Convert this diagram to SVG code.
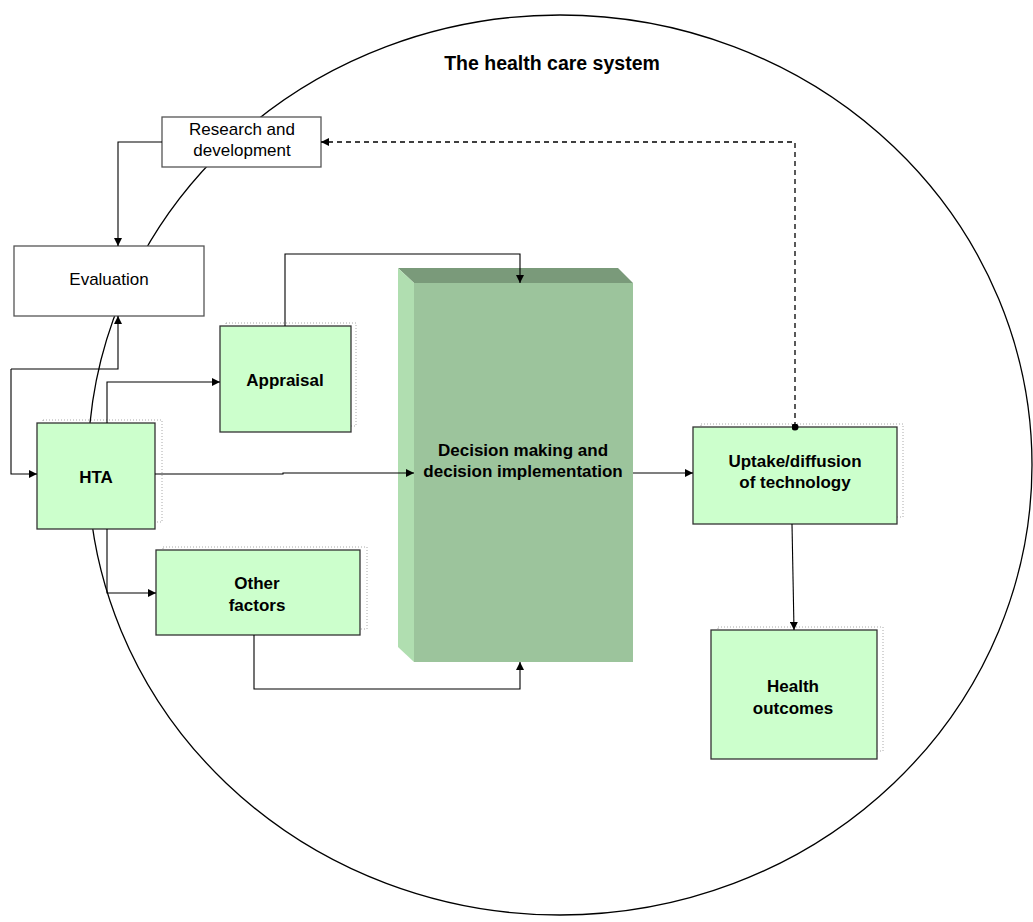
<svg xmlns="http://www.w3.org/2000/svg" width="1033" height="922" viewBox="0 0 1033 922">
<style>
  text { font-family: "Liberation Sans", Arial, sans-serif; font-size: 17px; fill: #000; text-anchor: middle; }
  .b { font-weight: bold; }
  .title { font-size: 19.5px; }
  .box { fill: #CCFFCC; stroke: #333; stroke-width: 1.3; }
  .wbox { fill: #fff; stroke: #555; stroke-width: 1.3; }
  .shadow { fill: none; stroke: #aaa; stroke-width: 1; stroke-dasharray: 1 2; }
  .conn { fill: none; stroke: #000; stroke-width: 1.1; }
  .dash { fill: none; stroke: #000; stroke-width: 1.3; stroke-dasharray: 5 4; }
</style>
<defs>
  <marker id="arr" viewBox="0 0 10 10" refX="10" refY="5" markerWidth="8" markerHeight="8" markerUnits="userSpaceOnUse" orient="auto">
    <path d="M0,0 L10,5 L0,10 z" fill="#000"/>
  </marker>
  <marker id="dot" viewBox="0 0 10 10" refX="5" refY="5" markerWidth="7" markerHeight="7" markerUnits="userSpaceOnUse">
    <circle cx="5" cy="5" r="5" fill="#000"/>
  </marker>
</defs>
<rect width="1033" height="922" fill="#fff"/>

<g id="system">
  <ellipse cx="560" cy="465" rx="472" ry="450" fill="none" stroke="#000" stroke-width="1.3"/>
  <text class="b title" x="552" y="70">The health care system</text>
</g>

<g id="rd">
  <rect class="wbox" x="162" y="117" width="159" height="50"/>
  <text x="242" y="135">Research and</text>
  <text x="242" y="156">development</text>
</g>

<g id="evaluation">
  <rect class="wbox" x="14" y="246" width="190" height="70"/>
  <text x="109" y="285">Evaluation</text>
</g>

<g id="appraisal">
  <rect class="shadow" x="226" y="323" width="130" height="103"/>
  <rect class="box" x="220" y="326" width="131" height="106"/>
  <text class="b" x="285" y="386">Appraisal</text>
</g>

<g id="hta">
  <rect class="shadow" x="43" y="420" width="119" height="102"/>
  <rect class="box" x="37" y="423" width="118" height="106"/>
  <text class="b" x="96" y="483">HTA</text>
</g>

<g id="other">
  <rect class="shadow" x="163" y="547" width="204" height="82"/>
  <rect class="box" x="156" y="550" width="204" height="85"/>
  <text class="b" x="257" y="589">Other</text>
  <text class="b" x="257" y="611">factors</text>
</g>

<g id="decision">
  <polygon points="398,268 618,268 633,283 414,283" fill="#7A9A7A"/>
  <polygon points="398,268 414,283 414,662 398,647" fill="#B0DEB0"/>
  <rect x="414" y="283" width="219" height="379" fill="#9CC49C"/>
  <text class="b" x="523" y="456">Decision making and</text>
  <text class="b" x="523" y="477">decision implementation</text>
</g>

<g id="uptake">
  <rect class="shadow" x="701" y="424" width="202" height="93"/>
  <rect class="box" x="693" y="427" width="204" height="97"/>
  <text class="b" x="795" y="467">Uptake/diffusion</text>
  <text class="b" x="795" y="488">of technology</text>
</g>

<g id="health">
  <rect class="shadow" x="718" y="627" width="165" height="124"/>
  <rect class="box" x="711" y="630" width="166" height="129"/>
  <text class="b" x="793" y="692">Health</text>
  <text class="b" x="793" y="714">outcomes</text>
</g>

<g id="connectors">
  <path class="conn" d="M162,142 H118 V246" marker-end="url(#arr)"/>
  <path class="conn" d="M11,369 H118 V316" marker-end="url(#arr)"/>
  <path class="conn" d="M11,369 V474 H37" marker-end="url(#arr)"/>
  <path class="conn" d="M107,423 V382 H220" marker-end="url(#arr)"/>
  <path class="conn" d="M155,474 H283 V473 H414" marker-end="url(#arr)"/>
  <path class="conn" d="M107,529 V593 H156" marker-end="url(#arr)"/>
  <path class="conn" d="M254,635 V689 H520 V662" marker-end="url(#arr)"/>
  <path class="conn" d="M285,326 V254 H520 V283" marker-end="url(#arr)"/>
  <path class="conn" d="M633,473 H693" marker-end="url(#arr)"/>
  <path class="conn" d="M792,524 L794,630" marker-end="url(#arr)"/>
  <path class="dash" d="M795,427 V142 H321" marker-start="url(#dot)" marker-end="url(#arr)"/>
</g>
</svg>
